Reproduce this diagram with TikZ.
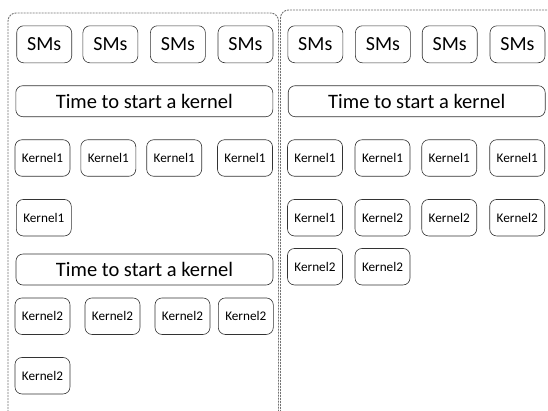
\documentclass[tikz,border=0pt]{standalone}
\usepackage{fontspec}
\setmainfont{Carlito}
\begin{document}
\begin{tikzpicture}[x=1pt,y=-1pt,
  panel/.style={draw=black!55,line width=0.9pt,dash pattern=on 2pt off 1pt,rounded corners=8pt},
  smbox/.style={draw=black!80,line width=0.6pt,rounded corners=7pt,minimum width=55pt,minimum height=37pt,inner sep=0pt,font=\fontsize{20}{22}\selectfont},
  timebox/.style={draw=black!80,line width=0.6pt,rounded corners=7pt,minimum width=257pt,minimum height=31pt,inner sep=0pt,font=\fontsize{20.5}{22}\selectfont},
  kbox/.style={draw=black!80,line width=0.6pt,rounded corners=7pt,minimum width=55pt,minimum height=36.5pt,inner sep=0pt,font=\fontsize{13.2}{15}\selectfont}]
\useasboundingbox (0,0) rectangle (548,410);
\begin{scope}
\clip (0,0) rectangle (548,410);
\draw[panel] (8,418) -- (8,13) -- (278.5,13) -- (278.5,418);
\draw[panel] (280.5,418) -- (280.5,10) -- (560,10) -- (560,418);
\end{scope}
% left column
\node[smbox] (ls1) at (44.2,44.3) {SMs};
\node[smbox] (ls2) at (110.4,44.3) {SMs};
\node[smbox] (ls3) at (177.9,44.3) {SMs};
\node[smbox] (ls4) at (245.5,44.3) {SMs};
\node[timebox] (lt1) at (144.3,101.2) {Time to start a kernel};
\node[kbox] (la1) at (42.5,158) {Kernel1};
\node[kbox] (la2) at (108.3,158) {Kernel1};
\node[kbox] (la3) at (174.2,158) {Kernel1};
\node[kbox] (la4) at (245,158) {Kernel1};
\node[kbox] (la5) at (43.8,217.7) {Kernel1};
\node[timebox] (lt2) at (144.5,269.5) {Time to start a kernel};
\node[kbox] (lb1) at (42.5,316.2) {Kernel2};
\node[kbox] (lb2) at (112.5,316.2) {Kernel2};
\node[kbox] (lb3) at (182.5,316.2) {Kernel2};
\node[kbox] (lb4) at (245.8,316.2) {Kernel2};
\node[kbox] (lb5) at (42.5,375.7) {Kernel2};
% right column
\node[smbox] (rs1) at (315.3,44.3) {SMs};
\node[smbox] (rs2) at (382.9,44.3) {SMs};
\node[smbox] (rs3) at (449.7,44.3) {SMs};
\node[smbox] (rs4) at (517.5,44.3) {SMs};
\node[timebox] (rt1) at (416.7,101.2) {Time to start a kernel};
\node[kbox] (ra1) at (315,158) {Kernel1};
\node[kbox] (ra2) at (382.5,158) {Kernel1};
\node[kbox] (ra3) at (449.2,158) {Kernel1};
\node[kbox] (ra4) at (517.2,158) {Kernel1};
\node[kbox] (rb1) at (315,217.7) {Kernel1};
\node[kbox] (rb2) at (382.5,217.7) {Kernel2};
\node[kbox] (rb3) at (449.2,217.7) {Kernel2};
\node[kbox] (rb4) at (517.2,217.7) {Kernel2};
\node[kbox] (rc1) at (315,266.7) {Kernel2};
\node[kbox] (rc2) at (382.5,266.7) {Kernel2};
\end{tikzpicture}
\end{document}
